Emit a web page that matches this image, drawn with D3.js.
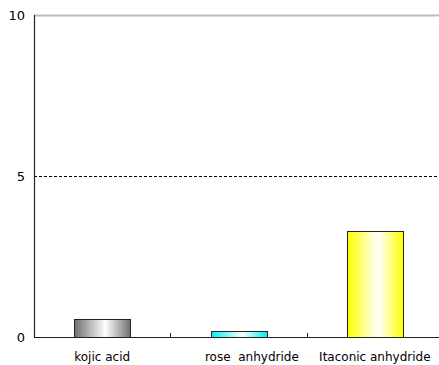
<!DOCTYPE html>
<html>
<head>
<meta charset="utf-8">
<script src="https://cdn.jsdelivr.net/npm/d3@7"></script>
<style>
  body { margin: 0; background: #fff; }
  text { font-family: "DejaVu Sans", sans-serif; fill: #000; }
</style>
</head>
<body>
<div id="chart"></div>
<script>
// data
const categories = ["kojic acid", "       rose  anhydride", "Itaconic anhydride"];
const values = [0.57, 0.19, 3.3];
const barColors = ["#6e6e6e", "#00eeee", "#ffff00"];
const yTicks = [0, 5, 10];

const width = 439, height = 365;
const margin = {top: 15, right: -4, bottom: 28, left: 34};

const svg = d3.select("#chart").append("svg")
    .attr("width", width)
    .attr("height", height);

const x = d3.scaleBand()
    .domain(categories)
    .range([margin.left, width - margin.right])
    .paddingInner(0)
    .paddingOuter(0);

const y = d3.scaleLinear()
    .domain([0, 10])
    .range([height - margin.bottom, margin.top]);

// gradients, colour at the edges fading to white near the middle
const defs = svg.append("defs");
barColors.forEach(function (c, i) {
    const g = defs.append("linearGradient")
        .attr("id", "grad" + i)
        .attr("x1", "0%").attr("x2", "100%")
        .attr("y1", "0%").attr("y2", "0%");
    g.append("stop").attr("offset", "0%").attr("stop-color", c);
    g.append("stop").attr("offset", "55%").attr("stop-color", "#fff");
    g.append("stop").attr("offset", "100%").attr("stop-color", c);
});

// top border
svg.append("line")
    .attr("x1", margin.left).attr("x2", width)
    .attr("y1", y(10) + 0.5).attr("y2", y(10) + 0.5)
    .attr("stroke", "#bbb")
    .attr("stroke-width", 2);

// dashed gridline at 5
svg.append("line")
    .attr("x1", margin.left).attr("x2", width)
    .attr("y1", Math.round(y(5)) + 0.5).attr("y2", Math.round(y(5)) + 0.5)
    .attr("stroke", "#000")
    .attr("stroke-width", 1)
    .attr("stroke-dasharray", "3,2");

// bars
const barW = 56;
svg.append("g")
    .selectAll("rect")
    .data(values)
    .enter()
    .append("rect")
    .attr("x", (d, i) => Math.round(x(categories[i]) + x.bandwidth() / 2 - barW / 2) + 0.5)
    .attr("y", d => Math.round(y(d)) + 0.5)
    .attr("width", barW)
    .attr("height", d => Math.round(y(0)) - Math.round(y(d)))
    .attr("fill", (d, i) => "url(#grad" + i + ")")
    .attr("stroke", "#222")
    .attr("stroke-width", 1);

// y axis line
svg.append("line")
    .attr("x1", margin.left + 0.5).attr("x2", margin.left + 0.5)
    .attr("y1", y(10)).attr("y2", y(0))
    .attr("stroke", "#222")
    .attr("stroke-width", 1.2);

// x axis line
svg.append("line")
    .attr("x1", margin.left).attr("x2", width)
    .attr("y1", Math.round(y(0)) + 0.5).attr("y2", Math.round(y(0)) + 0.5)
    .attr("stroke", "#222")
    .attr("stroke-width", 1.2);

// category separator ticks
svg.append("g")
    .selectAll("line")
    .data(categories.slice(1))
    .enter()
    .append("line")
    .attr("x1", d => Math.round(x(d)) + 0.5)
    .attr("x2", d => Math.round(x(d)) + 0.5)
    .attr("y1", y(0) - 4)
    .attr("y2", y(0))
    .attr("stroke", "#222");

// y tick labels
svg.append("g")
    .selectAll("text")
    .data(yTicks)
    .enter()
    .append("text")
    .attr("x", 25)
    .attr("y", d => y(d) + 5)
    .attr("text-anchor", "end")
    .style("font-size", "13px")
    .text(d => d);

// category labels
svg.append("g")
    .selectAll("text")
    .data(categories)
    .enter()
    .append("text")
    .attr("x", d => x(d) + x.bandwidth() / 2)
    .attr("y", 361)
    .attr("text-anchor", "middle")
    .style("font-size", "12px")
    .style("white-space", "pre")
    .attr("xml:space", "preserve")
    .text(d => d);
</script>
</body>
</html>
